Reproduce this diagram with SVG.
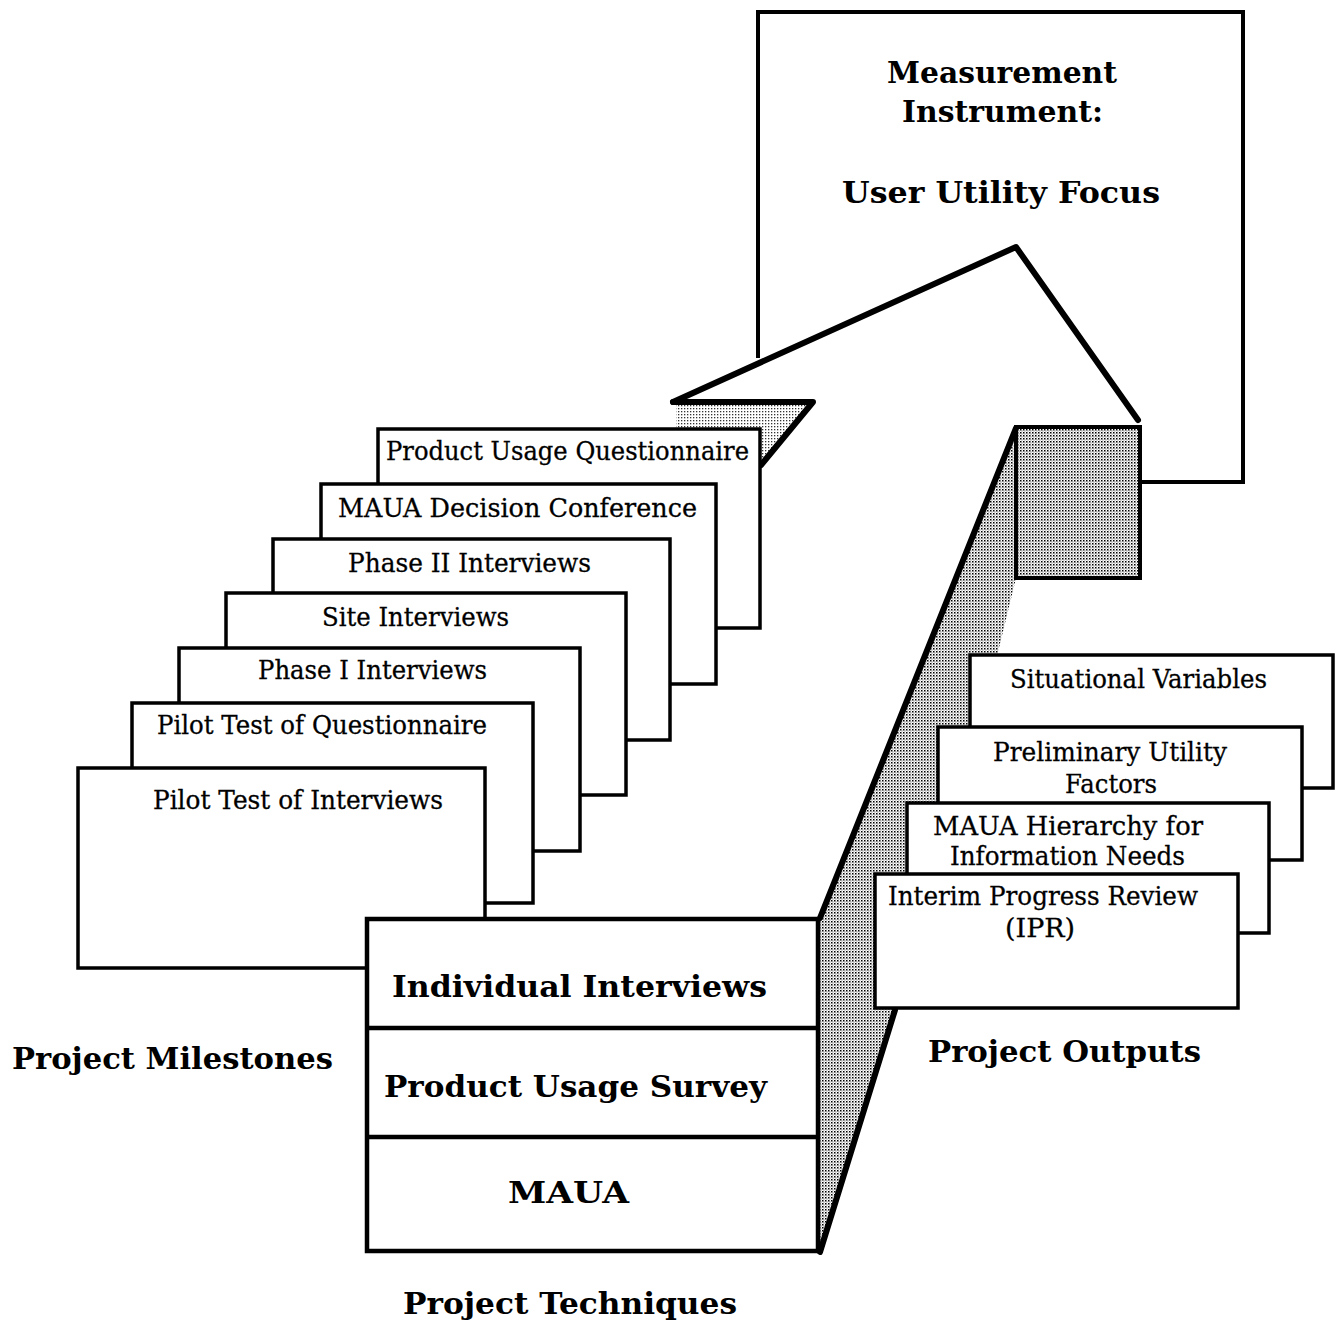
<svg xmlns="http://www.w3.org/2000/svg" width="1337" height="1327" viewBox="0 0 1337 1327">
<defs>
<pattern id="dots" width="3" height="3" patternUnits="userSpaceOnUse"><rect width="3" height="3" fill="#fff"/><rect width="1.5" height="1.5" fill="#000"/><rect x="1.5" y="1.5" width="1" height="1" fill="#555"/></pattern>
<pattern id="dotsLight" width="3" height="3" patternUnits="userSpaceOnUse"><rect width="3" height="3" fill="#fff"/><rect width="1.3" height="1.3" fill="#333"/></pattern>
</defs>
<style>
.box{fill:#fff;stroke:#000;stroke-width:3.5}
.t{font-family:"DejaVu Serif","Liberation Serif",serif;font-size:26px;fill:#000;stroke:#000;stroke-width:0.3}
.b{font-family:"DejaVu Serif","Liberation Serif",serif;font-size:30px;font-weight:bold;fill:#000}
.thick{fill:none;stroke:#000;stroke-width:6;stroke-linecap:round;stroke-linejoin:round}
.med{fill:none;stroke:#000;stroke-width:4;stroke-linejoin:miter}
</style>
<rect width="1337" height="1327" fill="#fff"/>

<g id="shading">
<polygon points="1016,428 1016,578 997,656 990,656 990,1008 895,1008 820,1250 820,918" fill="url(#dots)"/>
<polygon points="676,404 810,404 760,463 760,430 676,430" fill="url(#dotsLight)"/>
<rect x="1016" y="427" width="124" height="151" fill="url(#dots)" stroke="#000" stroke-width="4"/>
</g>

<g id="connectors">
<polyline class="med" points="758,358 758,12 1243,12 1243,482 1140,482"/>
<polyline class="thick" points="673,402 1016,247 1138,420"/>
<polyline class="thick" points="673,402 813,402 761,465"/>
<line class="thick" x1="1016" y1="428" x2="820" y2="918"/>
<line class="thick" x1="895" y1="1010" x2="820" y2="1252"/>
</g>

<g id="measurement-instrument">
<text class="b" x="887" y="83" textLength="230" lengthAdjust="spacingAndGlyphs">Measurement</text>
<text class="b" x="902" y="122" textLength="201" lengthAdjust="spacingAndGlyphs">Instrument:</text>
<text class="b" x="842" y="203" textLength="318" lengthAdjust="spacingAndGlyphs">User Utility Focus</text>
</g>

<g id="m1"><rect class="box" x="378" y="429" width="382" height="199"/><text class="t" x="386" y="460" textLength="363" lengthAdjust="spacingAndGlyphs">Product Usage Questionnaire</text></g>
<g id="m2"><rect class="box" x="321" y="484" width="395" height="200"/><text class="t" x="338" y="517" textLength="359" lengthAdjust="spacingAndGlyphs">MAUA Decision Conference</text></g>
<g id="m3"><rect class="box" x="273" y="539" width="397" height="201"/><text class="t" x="348" y="572" textLength="243" lengthAdjust="spacingAndGlyphs">Phase II Interviews</text></g>
<g id="m4"><rect class="box" x="226" y="593" width="400" height="202"/><text class="t" x="322" y="626" textLength="187" lengthAdjust="spacingAndGlyphs">Site Interviews</text></g>
<g id="m5"><rect class="box" x="179" y="648" width="401" height="203"/><text class="t" x="258" y="679" textLength="229" lengthAdjust="spacingAndGlyphs">Phase I Interviews</text></g>
<g id="m6"><rect class="box" x="132" y="703" width="401" height="200"/><text class="t" x="157" y="734" textLength="330" lengthAdjust="spacingAndGlyphs">Pilot Test of Questionnaire</text></g>
<g id="m7"><rect class="box" x="78" y="768" width="407" height="200"/><text class="t" x="153" y="809" textLength="290" lengthAdjust="spacingAndGlyphs">Pilot Test of Interviews</text></g>

<g id="techniques">
<rect x="367" y="919" width="451" height="332" fill="#fff" stroke="#000" stroke-width="4.5"/>
<line x1="367" y1="1028" x2="818" y2="1028" stroke="#000" stroke-width="4.5"/>
<line x1="367" y1="1137" x2="818" y2="1137" stroke="#000" stroke-width="4.5"/>
<text class="b" x="392" y="997" textLength="375" lengthAdjust="spacingAndGlyphs">Individual Interviews</text>
<text class="b" x="384" y="1097" textLength="383" lengthAdjust="spacingAndGlyphs">Product Usage Survey</text>
<text class="b" x="508" y="1203" textLength="121" lengthAdjust="spacingAndGlyphs">MAUA</text>
</g>

<g id="o1"><rect class="box" x="970" y="655" width="363" height="133"/><text class="t" x="1010" y="688" textLength="257" lengthAdjust="spacingAndGlyphs">Situational Variables</text></g>
<g id="o2"><rect class="box" x="938" y="727" width="364" height="133"/><text class="t" x="993" y="761" textLength="234" lengthAdjust="spacingAndGlyphs">Preliminary Utility</text><text class="t" x="1065" y="793" textLength="92" lengthAdjust="spacingAndGlyphs">Factors</text></g>
<g id="o3"><rect class="box" x="907" y="803" width="362" height="130"/><text class="t" x="933" y="835" textLength="270" lengthAdjust="spacingAndGlyphs">MAUA Hierarchy for</text><text class="t" x="950" y="865" textLength="235" lengthAdjust="spacingAndGlyphs">Information Needs</text></g>
<g id="o4"><rect class="box" x="875" y="874" width="363" height="134"/><text class="t" x="888" y="905" textLength="310" lengthAdjust="spacingAndGlyphs">Interim Progress Review</text><text class="t" x="1005" y="937" textLength="70" lengthAdjust="spacingAndGlyphs">(IPR)</text></g>

<g id="labels">
<text class="b" x="12" y="1069" textLength="321" lengthAdjust="spacingAndGlyphs">Project Milestones</text>
<text class="b" x="403" y="1314" textLength="334" lengthAdjust="spacingAndGlyphs">Project Techniques</text>
<text class="b" x="928" y="1062" textLength="273" lengthAdjust="spacingAndGlyphs">Project Outputs</text>
</g>
</svg>
